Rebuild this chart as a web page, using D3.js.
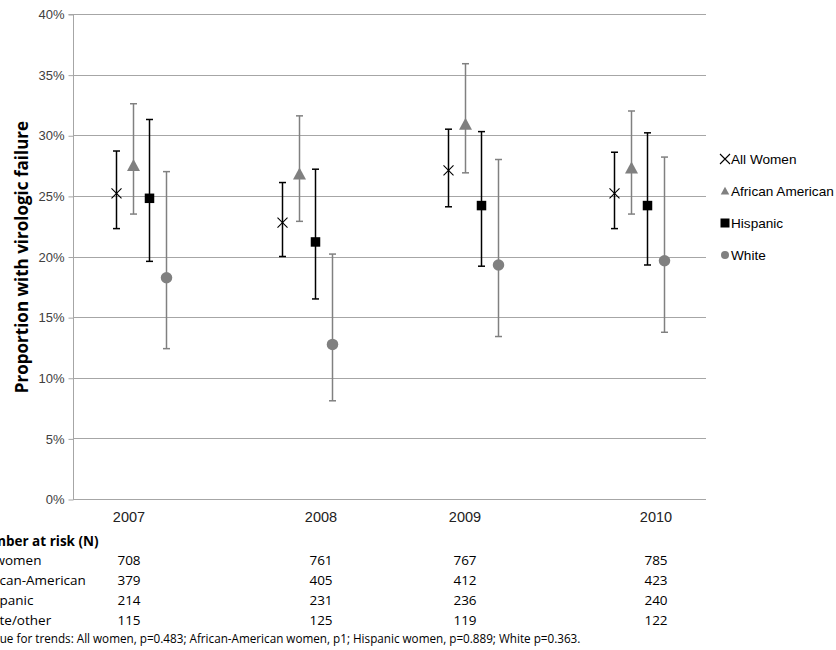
<!DOCTYPE html>
<html>
<head>
<meta charset="utf-8">
<script src="https://cdn.jsdelivr.net/npm/d3@7"></script>
<style>
  html, body { margin: 0; padding: 0; background: #fff; overflow: hidden; }
  svg { display: block; }
</style>
</head>
<body>
<svg id="chart" width="836" height="650"></svg>
<script>
// Survey years
const years = [2007, 2008, 2009, 2010];

// Series names (legend order)
const seriesNames = ["All Women", "African American", "Hispanic", "White"];

// Point estimates (%) per series, by year
const allWomen        = [25.2, 22.8, 27.1, 25.2];
const africanAmerican = [27.5, 26.8, 30.9, 27.3];
const hispanic        = [24.8, 21.2, 24.2, 24.2];
const white           = [18.25, 12.75, 19.3, 19.65];

// 95% confidence limits (%)
const allWomenLow  = [22.3, 20.0, 24.1, 22.3];
const allWomenHigh = [28.7, 26.1, 30.5, 28.6];
const afAmLow      = [23.5, 22.9, 26.9, 23.5];
const afAmHigh     = [32.6, 31.6, 35.9, 32.0];
const hispLow      = [19.6, 16.5, 19.2, 19.3];
const hispHigh     = [31.3, 27.2, 30.3, 30.2];
const whiteLow     = [12.4, 8.1, 13.4, 13.75];
const whiteHigh    = [27.0, 20.2, 28.0, 28.2];

// Y ticks
const yTicks = [0, 5, 10, 15, 20, 25, 30, 35, 40];

// Number at risk table
const riskTitle = "Number at risk (N)";
const riskLabels = ["All women", "African-American", "Hispanic", "White/other"];
const riskAllWomen = [708, 761, 767, 785];
const riskAfAm     = [379, 405, 412, 423];
const riskHisp     = [214, 231, 236, 240];
const riskWhite    = [115, 125, 119, 122];
const footnote = "P value for trends: All women, p=0.483; African-American women, p1; Hispanic women, p=0.889; White p=0.363.";

const svg = d3.select("#chart");

const plot = { left: 73, right: 706, top: 14, bottom: 499 };

const y = d3.scaleLinear().domain([0, 40]).range([plot.bottom, plot.top]);
const x = d3.scaleLinear().domain([2007, 2010]).range([141, 639]);
const offset = d3.scalePoint().domain(seriesNames).range([-25, 25]);

const GRID = "#a6a6a6";
const GRAY = "#808080";

// Gridlines
svg.append("g").selectAll("line").data(yTicks.filter(t => t > 0)).join("line")
  .attr("x1", plot.left).attr("x2", plot.right)
  .attr("y1", d => Math.round(y(d)) + 0.5).attr("y2", d => Math.round(y(d)) + 0.5)
  .attr("stroke", GRID).attr("stroke-width", 1);

// Y axis
const yAxis = d3.axisLeft(y).tickValues(yTicks).tickSize(5).tickPadding(4)
  .tickFormat(d => d + "%");
const gy = svg.append("g").attr("transform", `translate(${plot.left + 0.5},0.5)`).call(yAxis);
gy.select(".domain").attr("stroke", GRID).attr("d", `M-5,${y(40)}H0V${y(0)}`);
gy.selectAll(".tick line").attr("stroke", GRID);
gy.selectAll(".tick text")
  .attr("font-family", "Liberation Sans, Arial, sans-serif")
  .attr("font-size", 13).attr("fill", "#404040");

// X axis baseline
svg.append("line")
  .attr("x1", plot.left).attr("x2", plot.right)
  .attr("y1", plot.bottom + 0.5).attr("y2", plot.bottom + 0.5)
  .attr("stroke", GRID);

// Y title
svg.append("text")
  .attr("transform", `translate(28,257) rotate(-90)`)
  .attr("text-anchor", "middle")
  .attr("font-family", "Open Sans, sans-serif")
  .attr("font-weight", "bold").attr("font-size", 17).attr("fill", "#000")
  .text("Proportion with virologic failure");

// Series definitions
const series = [
  { name: "All Women",        vals: allWomen,        lo: allWomenLow, hi: allWomenHigh, color: "#000", shape: "x" },
  { name: "African American", vals: africanAmerican, lo: afAmLow,     hi: afAmHigh,     color: GRAY,   shape: "triangle" },
  { name: "Hispanic",         vals: hispanic,        lo: hispLow,     hi: hispHigh,     color: "#000", shape: "square" },
  { name: "White",            vals: white,           lo: whiteLow,    hi: whiteHigh,    color: GRAY,   shape: "circle" }
];

function drawMarker(g, shape, color, size) {
  if (shape === "x") {
    const h = size / 2;
    g.append("path").attr("d", `M${-h},${-h}L${h},${h}M${-h},${h}L${h},${-h}`)
      .attr("stroke", color).attr("stroke-width", 1.1).attr("fill", "none");
  } else if (shape === "triangle") {
    const h = size / 2;
    g.append("path").attr("d", `M0,${-h}L${h},${h * 0.85}L${-h},${h * 0.85}Z`).attr("fill", color);
  } else if (shape === "square") {
    const h = size / 2;
    g.append("rect").attr("x", -h).attr("y", -h).attr("width", 2 * h).attr("height", 2 * h).attr("fill", color);
  } else {
    g.append("circle").attr("r", size / 2).attr("fill", color);
  }
}

// Marker sizes per shape
const plotSize = { x: 10, triangle: 13, square: 9.5, circle: 11.5 };
const legendSize = { x: 10, triangle: 8.5, square: 9, circle: 8 };

const marks = svg.append("g");
series.forEach(s => {
  const g = marks.append("g");
  years.forEach((yr, i) => {
    const cx = Math.round(x(yr) + offset(s.name)) + 0.5;
    // error bar
    g.append("line").attr("x1", cx).attr("x2", cx)
      .attr("y1", y(s.lo[i])).attr("y2", y(s.hi[i]))
      .attr("stroke", s.color).attr("stroke-width", 1.5);
    [s.lo[i], s.hi[i]].forEach(v => {
      g.append("line").attr("x1", cx - 3.5).attr("x2", cx + 3.5)
        .attr("y1", y(v)).attr("y2", y(v))
        .attr("stroke", s.color).attr("stroke-width", 1.5);
    });
    const m = g.append("g").attr("transform", `translate(${cx},${y(s.vals[i])})`);
    drawMarker(m, s.shape, s.color, plotSize[s.shape]);
  });
});

// Legend
const legend = svg.append("g");
seriesNames.forEach((name, i) => {
  const s = series[i];
  const ly = 159 + i * 32;
  const m = legend.append("g").attr("transform", `translate(725,${ly})`);
  drawMarker(m, s.shape, s.color, legendSize[s.shape]);
  legend.append("text").attr("x", 731).attr("y", ly + 5)
    .attr("font-family", "Liberation Sans, Arial, sans-serif")
    .attr("font-size", 13.6).attr("fill", "#000")
    .text(name);
});

// Number at risk table, with the year row on top
const tableCols = [129, 321, 465, 656];
svg.append("g").selectAll("text").data(years).join("text")
  .attr("x", (d, i) => tableCols[i]).attr("y", 522)
  .attr("text-anchor", "middle")
  .attr("font-family", "Liberation Sans, Arial, sans-serif")
  .attr("font-size", 14.5).attr("fill", "#222")
  .text(d => d);

const table = svg.append("g")
  .attr("font-family", "Open Sans, sans-serif").attr("fill", "#000");

// The table's label column begins left of the page edge; measure how far
function textWidth(str, size, weight) {
  const t = table.append("text").attr("font-size", size)
    .attr("font-weight", weight || "normal").attr("xml:space", "preserve").text(str);
  const w = t.node().getComputedTextLength();
  t.remove();
  return w;
}

table.append("text")
  .attr("x", -(textWidth("Nu", 13.5, "bold") + 0.55 * textWidth("m", 13.5, "bold")))
  .attr("y", 546)
  .attr("font-size", 13.5).attr("font-weight", "bold")
  .text(riskTitle);

const hiddenLead = ["All w", "Afri", "His", "Whi"];
const leadTrim = [-5, 0.5, 0.5, 0.5];
const riskRows = [riskAllWomen, riskAfAm, riskHisp, riskWhite];
riskRows.forEach((row, r) => {
  const by = 565 + r * 20;
  table.append("text")
    .attr("x", -(textWidth(hiddenLead[r], 13.5) + leadTrim[r]))
    .attr("y", by).attr("font-size", 13.5)
    .text(riskLabels[r]);
  row.forEach((v, c) => {
    table.append("text").attr("x", tableCols[c]).attr("y", by)
      .attr("text-anchor", "middle").attr("font-size", 13.5).text(v);
  });
});
table.append("text")
  .attr("x", -(textWidth("P val", 11.7) + 0.3))
  .attr("y", 643).attr("font-size", 11.7)
  .text(footnote);
</script>
</body>
</html>
